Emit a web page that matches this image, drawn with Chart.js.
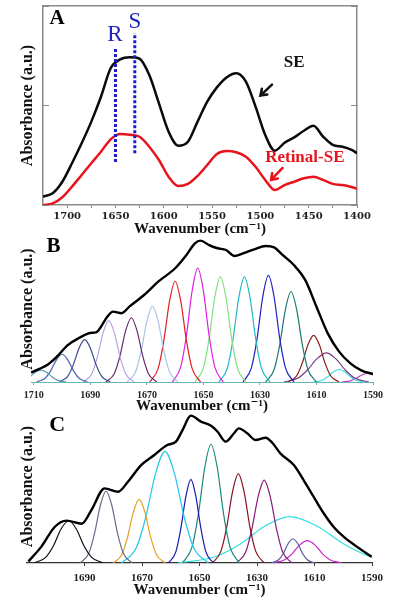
<!DOCTYPE html>
<html>
<head>
<meta charset="utf-8">
<script src="https://cdn.jsdelivr.net/npm/chart.js@4.4.1/dist/chart.umd.min.js"></script>
<style>
  html, body { margin: 0; padding: 0; background: #fff; }
  body { width: 400px; height: 602px; position: relative; overflow: hidden; }
  canvas { position: absolute; left: 0; }
</style>
</head>
<body>
<canvas id="chartA" width="400" height="242" style="top:0px"></canvas>
<canvas id="chartB" width="400" height="185" style="top:230px"></canvas>
<canvas id="chartC" width="400" height="197" style="top:405px"></canvas>
<script>
// ---------- Panel A : SE vs Retinal-SE ----------
const aWavenumber = [1725, 1715, 1705, 1695, 1685, 1675, 1665, 1655, 1645, 1635, 1625, 1615, 1605, 1595, 1585, 1575, 1565,
  1555, 1545, 1535, 1525, 1515, 1505, 1495, 1485, 1475, 1465, 1455, 1445, 1435, 1425, 1415, 1405, 1400];
const aSE = [4.2, 5.9, 11.7, 21, 31, 41.9, 54.4, 68.7, 73.2, 74.2, 73.5, 65.3, 51.1, 36.8, 29.8, 31.8, 41.9,
  51.9, 59.1, 64.1, 66.2, 62, 49.4, 35.2, 27.3, 31.3, 34, 37.3, 39.8, 34.3, 30.2, 29.3, 27.6, 26];
const aRetinalSE = [0, 0.8, 3.9, 9.2, 15.1, 21, 26.8, 33, 35.7, 35.3, 34.3, 29.3, 22.6, 14.2, 9.5, 10.6, 14.6,
  20.1, 25.6, 27.1, 26.5, 24.3, 19.2, 12.6, 7.5, 10, 11.7, 13.4, 14.2, 12.6, 10.6, 10, 8.9, 8.2];
const aTicks = [1700, 1675, 1650, 1625, 1600, 1575, 1550, 1525, 1500, 1475, 1450, 1425, 1400];
// R / S marker lines (wavenumber, bottom, top)
const markR = [1650, 21.6, 79.4];
const markS = [1630, 26, 86.4];

// ---------- Panel B : 16 fitted bands ----------
const bWavenumber = [1711, 1708, 1705, 1702, 1698, 1694, 1690, 1688, 1684, 1682, 1679, 1676, 1671, 1666, 1660, 1656, 1653,
  1651, 1648, 1645, 1642, 1639, 1636, 1632, 1628, 1625, 1622, 1618, 1614, 1610, 1606, 1602, 1598, 1594, 1590];
const bEnvelope = [6.5, 9, 12, 17, 25.3, 30.1, 33.6, 34, 44.7, 48.2, 47.1, 52, 59.6, 68.7, 77.9, 87, 95,
  96.8, 93.8, 91.6, 90.4, 86.3, 88.1, 90.9, 93.2, 92.2, 87, 80.1, 69.9, 51.6, 33.3, 20.8, 12.8, 7.8, 5.5];
const bBandX = [
  [1716.5, 1713.5, 1711.5, 1709.5, 1707.5, 1705.5, 1703.5, 1701.5, 1698.5],
  [1709, 1706, 1704, 1702, 1700, 1698, 1696, 1694, 1691],
  [1701, 1698, 1696, 1694, 1692, 1690, 1688, 1686, 1683],
  [1692.5, 1689.5, 1687.5, 1685.5, 1683.5, 1681.5, 1679.5, 1677.5, 1674.5],
  [1684.5, 1681.5, 1679.5, 1677.5, 1675.5, 1673.5, 1671.5, 1669.5, 1666.5],
  [1677, 1674, 1672, 1670, 1668, 1666, 1664, 1662, 1659],
  [1669, 1666, 1664, 1662, 1660, 1658, 1656, 1654, 1651],
  [1661, 1658, 1656, 1654, 1652, 1650, 1648, 1646, 1643],
  [1653, 1650, 1648, 1646, 1644, 1642, 1640, 1638, 1635],
  [1644.5, 1641.5, 1639.5, 1637.5, 1635.5, 1633.5, 1631.5, 1629.5, 1626.5],
  [1636, 1633, 1631, 1629, 1627, 1625, 1623, 1621, 1618],
  [1628, 1625, 1623, 1621, 1619, 1617, 1615, 1613, 1610],
  [1620, 1617, 1615, 1613, 1611, 1609, 1607, 1605, 1602],
  [1621.5, 1616.5, 1613.2, 1609.8, 1606.5, 1603.2, 1599.8, 1596.5, 1591.5],
  [1611, 1608, 1606, 1604, 1602, 1600, 1598, 1596, 1593],
  [1601, 1598, 1596, 1594, 1592, 1590, 1588, 1586, 1583]
];
const bBandY = [
  [0, 1.1, 3.4, 6.6, 8.2, 6.6, 3.4, 1.1, 0],
  [0, 2.6, 7.8, 15.2, 19, 15.2, 7.8, 2.6, 0],
  [0, 3.9, 11.9, 23.2, 29, 23.2, 11.9, 3.9, 0],
  [0, 5.7, 17.2, 33.6, 42, 33.6, 17.2, 5.7, 0],
  [0, 5.9, 18, 35.2, 44, 35.2, 18, 5.9, 0],
  [0, 7, 21.3, 41.6, 52, 41.6, 21.3, 7, 0],
  [0, 9.3, 28.3, 55.2, 69, 55.2, 28.3, 9.3, 0],
  [0, 10.5, 32, 62.4, 78, 62.4, 32, 10.5, 0],
  [0, 9.7, 29.5, 57.6, 72, 57.6, 29.5, 9.7, 0],
  [0, 9.7, 29.5, 57.6, 72, 57.6, 29.5, 9.7, 0],
  [0, 9.9, 29.9, 58.4, 73, 58.4, 29.9, 9.9, 0],
  [0, 8.4, 25.4, 49.6, 62, 49.6, 25.4, 8.4, 0],
  [0, 4.3, 13.1, 25.6, 32, 25.6, 13.1, 4.3, 0],
  [0, 2.7, 8.2, 16, 20, 16, 8.2, 2.7, 0],
  [0, 1.2, 3.6, 7, 8.7, 7, 3.6, 1.2, 0],
  [0, 0.8, 2.5, 4.8, 6, 4.8, 2.5, 0.8, 0]
];
const bTicks = [1710, 1690, 1670, 1650, 1630, 1610, 1590];

// ---------- Panel C : 11 fitted bands ----------
const cWavenumber = [1709.5, 1705, 1700.3, 1696.2, 1691, 1687.6, 1683, 1678.3, 1674.9, 1670.3, 1665.7, 1661.2, 1658.2,
  1655.9, 1653, 1649.5, 1646.1, 1643.7, 1640.9, 1638, 1636.3, 1633.4, 1630.5, 1627, 1624.7, 1621.8, 1617.2,
  1613.8, 1610.3, 1606.8, 1603.4, 1599.9, 1595.3, 1590.1];
const cEnvelope = [1, 10.7, 23.7, 27.7, 25.7, 34.6, 48.8, 46.6, 53.1, 64, 70.6, 77.1, 79.3,
  86.9, 96.3, 92.4, 89.8, 85.8, 79.3, 84.8, 88, 84.8, 80.4, 81.9, 78.6, 71.5, 64,
  54.2, 43.3, 32.5, 23.7, 17.2, 10.7, 4.1];
const cBandX = [
  [1707.5, 1703.5, 1700.8, 1698.2, 1695.5, 1692.8, 1690.2, 1687.5, 1683.5],
  [1691.5, 1688.5, 1686.5, 1684.5, 1682.5, 1680.5, 1678.5, 1676.5, 1673.5],
  [1680, 1677, 1675, 1673, 1671, 1669, 1667, 1665, 1662],
  [1677, 1672, 1668.7, 1665.3, 1662, 1658.7, 1655.3, 1652, 1647],
  [1660.8, 1658.2, 1656.5, 1654.7, 1653, 1651.3, 1649.5, 1647.8, 1645.2],
  [1655.9, 1652.6, 1650.4, 1648.2, 1646, 1643.8, 1641.6, 1639.4, 1636.1],
  [1645.5, 1642.5, 1640.5, 1638.5, 1636.5, 1634.5, 1632.5, 1630.5, 1627.5],
  [1637.1, 1633.9, 1631.8, 1629.6, 1627.5, 1625.4, 1623.2, 1621.1, 1617.9],
  [1657.5, 1644.5, 1635.8, 1627.2, 1618.5, 1609.2, 1599.8, 1590.5, 1576.5],
  [1625, 1622.5, 1620.8, 1619.2, 1617.5, 1615.8, 1614.2, 1612.5, 1610],
  [1624.5, 1620.5, 1617.8, 1615.2, 1612.5, 1609.8, 1607.2, 1604.5, 1600.5]
];
const cBandY = [
  [0, 3.7, 11.3, 22.1, 27.6, 22.1, 11.3, 3.7, 0],
  [0, 6.3, 19.3, 37.6, 47, 37.6, 19.3, 6.3, 0],
  [0, 5.6, 17.1, 33.3, 41.6, 33.3, 17.1, 5.6, 0],
  [0, 9.9, 29.9, 58.4, 73, 58.4, 29.9, 9.9, 0],
  [0, 7.4, 22.4, 43.8, 54.7, 43.8, 22.4, 7.4, 0],
  [0, 10.5, 31.8, 62.1, 77.6, 62.1, 31.8, 10.5, 0],
  [0, 7.9, 23.9, 46.6, 58.2, 46.6, 23.9, 7.9, 0],
  [0, 7.3, 22.2, 43.4, 54.2, 43.4, 22.2, 7.3, 0],
  [0, 4.1, 12.4, 24.2, 30.3, 24.2, 12.4, 4.1, 0],
  [0, 2.1, 6.4, 12.6, 15.7, 12.6, 6.4, 2.1, 0],
  [0, 2, 6, 11.7, 14.6, 11.7, 6, 2, 0]
];
const cTicks = [1690, 1670, 1650, 1630, 1610, 1590];

// band colours
const bColors = ['#5a9aaa', '#4a64b0', '#3a4a8a', '#b8a0e8', '#6a2a6a', '#a8c4e8', '#e02020', '#e020e0',
  '#80e080', '#20b8c8', '#2020c0', '#1a7a70', '#8a1a1a', '#7a3a8a', '#40e0e0', '#c040c0'];
const cColors = ['#111111', '#6a6a8a', '#e0a020', '#20c8e0', '#1a1ab0', '#1a8a7a', '#8a1020', '#8a1a7a',
  '#30e0e0', '#5a5a9a', '#d020d0'];

const serif = "'Liberation Serif', 'DejaVu Serif', serif";
const wavTitle = 'Wavenumber (cm\u207B\u00B9)';

const pts = (xs, ys) => xs.map((x, i) => ({ x: x, y: ys[i] }));

function curve(data, color, width) {
  return { data: data, borderColor: color, borderWidth: width, pointRadius: 0, fill: false,
    cubicInterpolationMode: 'monotone' };
}

function markLine(m) {
  return { data: [{ x: m[0], y: m[1] }, { x: m[0], y: m[2] }], borderColor: '#1c1ccf', borderWidth: 3,
    borderDash: [3, 2], pointRadius: 0, tension: 0, fill: false };
}

// text + arrows drawn in data coordinates
const notesPlugin = {
  id: 'notes',
  afterDatasetsDraw(chart, args, opts) {
    const ctx = chart.ctx, sx = chart.scales.x, sy = chart.scales.y;
    ctx.save();
    (opts.texts || []).forEach(t => {
      ctx.font = t.font;
      ctx.fillStyle = t.color;
      ctx.textAlign = 'center';
      ctx.textBaseline = 'middle';
      ctx.fillText(t.text, sx.getPixelForValue(t.x), sy.getPixelForValue(t.y));
    });
    (opts.arrows || []).forEach(a => {
      const x1 = sx.getPixelForValue(a.from[0]), y1 = sy.getPixelForValue(a.from[1]);
      const x2 = sx.getPixelForValue(a.to[0]), y2 = sy.getPixelForValue(a.to[1]);
      const ang = Math.atan2(y2 - y1, x2 - x1);
      ctx.strokeStyle = a.color;
      ctx.lineWidth = 2.5;
      ctx.lineCap = 'round';
      ctx.beginPath();
      ctx.moveTo(x1, y1);
      ctx.lineTo(x2, y2);
      ctx.moveTo(x2 - 7 * Math.cos(ang - 0.6), y2 - 7 * Math.sin(ang - 0.6));
      ctx.lineTo(x2, y2);
      ctx.lineTo(x2 - 7 * Math.cos(ang + 0.6), y2 - 7 * Math.sin(ang + 0.6));
      ctx.stroke();
    });
    ctx.restore();
  }
};

function yTitleAxis(width, extra) {
  return Object.assign({
    min: 0, max: 100,
    afterFit: s => { s.width = width; },
    ticks: { display: false },
    grid: { display: false },
    border: { display: false },
    title: { display: true, text: 'Absorbance (a.u.)', color: '#111',
      font: { family: serif, size: 16, weight: 'bold' }, padding: { top: 18, bottom: 0 } }
  }, extra || {});
}

function xAxis(min, max, ticks, o) {
  return {
    type: 'linear', position: 'bottom', min: min, max: max, reverse: true,
    afterFit: s => { s.height = o.height; },
    afterBuildTicks: s => { s.ticks = ticks.map(v => ({ value: v })); },
    ticks: { autoSkip: false, maxRotation: 0, padding: o.pad, color: '#222',
      font: { family: o.tickFamily || serif, size: o.tickSize, weight: 'bold' },
      callback: o.label || (v => String(v)) },
    grid: { drawOnChartArea: false, tickLength: 3, color: o.axisColor },
    border: { color: o.axisColor, width: o.axisWidth },
    title: { display: true, text: wavTitle, color: '#111',
      font: { family: serif, size: 15, weight: 'bold' }, padding: { top: 0, bottom: o.titlePad } }
  };
}

const baseOpts = {
  responsive: false,
  animation: false,
  events: []
};

// ---------- Chart A ----------
new Chart(document.getElementById('chartA'), {
  type: 'line',
  data: {
    datasets: [
      markLine(markR),
      markLine(markS),
      curve(pts(aWavenumber, aSE), '#0a0a0a', 2.5),
      curve(pts(aWavenumber, aRetinalSE), '#e8141c', 2.5)
    ]
  },
  options: Object.assign({}, baseOpts, {
    layout: { padding: { left: 0, right: 43, top: 6, bottom: 0 } },
    plugins: {
      legend: { display: false },
      tooltip: { enabled: false },
      notes: {
        texts: [
          { text: 'A', x: 1710.5, y: 93.7, font: 'bold 21px ' + serif, color: '#000' },
          { text: 'R', x: 1650.5, y: 85.4, font: '23px ' + serif, color: '#2323c0' },
          { text: 'S', x: 1629.8, y: 92, font: '23px ' + serif, color: '#2323c0' },
          { text: 'SE', x: 1465, y: 71.4, font: 'bold 17px ' + serif, color: '#111' },
          { text: 'Retinal-SE', x: 1454, y: 23.9, font: 'bold 17px ' + serif, color: '#e8141c' }
        ],
        arrows: [
          { from: [1488, 60.5], to: [1500, 55], color: '#111' },
          { from: [1477, 18.6], to: [1489, 12.6], color: '#e8141c' }
        ]
      }
    },
    scales: {
      x: xAxis(1400, 1725, aTicks, {
        height: 37, pad: 2, tickSize: 10, tickFamily: "'DejaVu Serif', serif",
        axisColor: '#8a8a8a', axisWidth: 1.5, titlePad: 4,
        label: v => (v % 50 === 0 ? String(v) : '')
      }),
      xTop: {
        type: 'linear', position: 'top', min: 1400, max: 1725, reverse: true,
        afterFit: s => { s.height = 0; },
        ticks: { display: false },
        grid: { drawOnChartArea: false, drawTicks: false },
        border: { color: '#8a8a8a', width: 1.5 }
      },
      y: yTitleAxis(43, {
        ticks: { display: false, stepSize: 50 },
        grid: { drawOnChartArea: false, tickLength: -6, color: '#8a8a8a' },
        border: { display: true, color: '#8a8a8a', width: 1.5 }
      }),
      yR: {
        position: 'right', min: 0, max: 100,
        afterFit: s => { s.width = 0; },
        ticks: { display: false, stepSize: 50 },
        grid: { drawOnChartArea: false, tickLength: -6, color: '#8a8a8a' },
        border: { color: '#8a8a8a', width: 1.5 }
      }
    }
  }),
  plugins: [notesPlugin]
});

// ---------- Chart B ----------
new Chart(document.getElementById('chartB'), {
  type: 'line',
  data: {
    datasets: [curve(pts(bWavenumber, bEnvelope), '#000', 2.4)]
      .concat(bBandX.map((xs, i) => curve(pts(xs, bBandY[i]), bColors[i], 1.2)))
  },
  options: Object.assign({}, baseOpts, {
    layout: { padding: { left: 0, right: 27, top: 6, bottom: 0 } },
    plugins: {
      legend: { display: false },
      tooltip: { enabled: false },
      notes: {
        texts: [{ text: 'B', x: 1703, y: 92.8, font: 'bold 21px ' + serif, color: '#000' }]
      }
    },
    scales: {
      x: xAxis(1590, 1711, bTicks, {
        height: 33, pad: 4, tickSize: 10, axisColor: '#66b8b8', axisWidth: 1, titlePad: 0
      }),
      y: yTitleAxis(31)
    }
  }),
  plugins: [notesPlugin]
});

// ---------- Chart C ----------
new Chart(document.getElementById('chartC'), {
  type: 'line',
  data: {
    datasets: [curve(pts(cWavenumber, cEnvelope), '#000', 2.4)]
      .concat(cBandX.map((xs, i) => curve(pts(xs, cBandY[i]), cColors[i], 1.2)))
  },
  options: Object.assign({}, baseOpts, {
    layout: { padding: { left: 0, right: 28, top: 5, bottom: 0 } },
    plugins: {
      legend: { display: false },
      tooltip: { enabled: false },
      notes: {
        texts: [{ text: 'C', x: 1699.5, y: 89.9, font: 'bold 22px ' + serif, color: '#000' }]
      }
    },
    scales: {
      x: xAxis(1590, 1710, cTicks, {
        height: 39, pad: 6, tickSize: 11, axisColor: '#333', axisWidth: 1.2, titlePad: 3
      }),
      y: yTitleAxis(27)
    }
  }),
  plugins: [notesPlugin]
});
</script>
</body>
</html>
